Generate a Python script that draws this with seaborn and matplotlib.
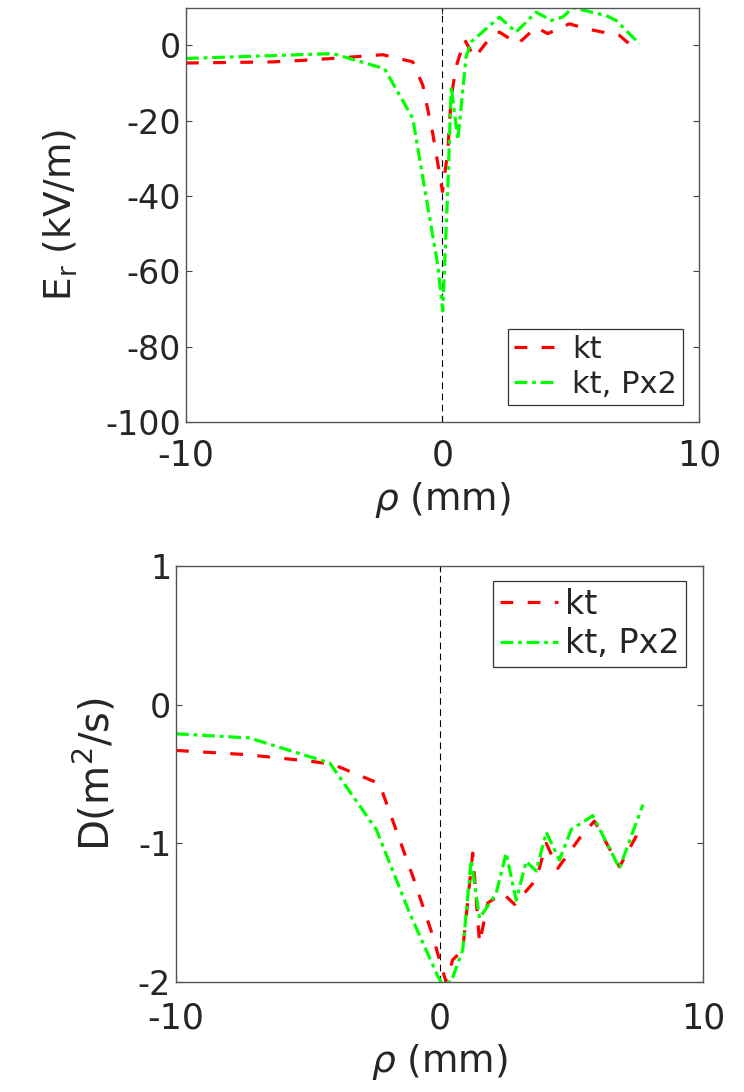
import matplotlib
matplotlib.use("Agg")
import matplotlib.pyplot as plt
import seaborn as sns
import pandas as pd

# radial field Er (kV/m)
rho_er_kt = [-10, -6.6, -5.45, -4.34, -2.33, -1.16, -0.77, -0.38, 0.0, 0.21, 0.34, 0.53,
             0.86, 1.25, 1.83, 2.22, 2.94, 3.65, 4.1, 4.95, 5.6, 6.25, 6.9, 7.42, 7.68]
er_kt = [-4.7, -4.4, -4.0, -3.5, -2.5, -4.4, -10.6, -23.4, -38.8, -27.8, -13.7, -5.7,
         1.5, -3.3, 1.8, 3.5, 0.4, 4.8, 3.1, 5.7, 4.4, 3.5, 2.6, -0.4, 0.4]

rho_er_px2 = [-10, -4.28, -2.26, -1.16, -0.18, 0.01, 0.21, 0.34, 0.6, 0.92, 1.12,
              2.22, 2.87, 3.65, 4.24, 4.69, 5.08, 6.38, 6.77, 7.68]
er_px2 = [-3.5, -2.2, -6.2, -19.4, -58.6, -70.5, -37.5, -11.0, -25.1, -3.1, 0.9,
          7.5, 3.5, 8.8, 6.6, 7.5, 10.0, 7.9, 6.6, 0.4]

# diffusion coefficient D (m^2/s)
rho_d_kt = [-10, -7.34, -4.81, -4.05, -2.28, -1.01, -0.25, -0.06, 0.25, 0.5, 0.88, 1.26,
            1.52, 1.83, 2.4, 2.85, 3.67, 4.05, 4.49, 5.44, 5.88, 6.83, 7.72]
d_kt = [-0.33, -0.36, -0.41, -0.43, -0.57, -1.24, -1.67, -1.80, -2.0, -1.84, -1.77, -1.07,
        -1.72, -1.43, -1.36, -1.44, -1.26, -1.0, -1.18, -0.93, -0.84, -1.17, -0.86]

rho_d_px2 = [-10, -7.21, -4.17, -2.4, -1.14, -0.06, 0.06, 0.44, 0.88, 1.2, 1.52, 2.15,
             2.53, 2.91, 3.29, 3.67, 4.05, 4.55, 5.0, 5.82, 6.83, 7.72]
d_px2 = [-0.21, -0.24, -0.42, -0.90, -1.50, -1.96, -2.0, -2.0, -1.77, -1.12, -1.54, -1.36,
         -1.07, -1.41, -1.13, -1.2, -0.92, -1.12, -0.90, -0.80, -1.18, -0.72]

labels = ["kt", "kt, Px2"]

sns.set_style("white")
plt.rcParams["font.family"] = ["DejaVu Sans"]
plt.rcParams["axes.unicode_minus"] = False
plt.rcParams["mathtext.fontset"] = "dejavusans"

fig = plt.figure(figsize=(7.44, 10.92), dpi=100)
ax1 = fig.add_axes([0.25, 0.6136, 0.6895, 0.3794])
ax2 = fig.add_axes([0.2366, 0.1007, 0.7083, 0.381])

red_dash = (4, 4.5)
green_dashdot = (4, 1.5, 1.2, 1.5)


def draw(ax, x1, y1, x2, y2, xpad):
    df1 = pd.DataFrame({"rho": x1, "val": y1})
    df2 = pd.DataFrame({"rho": x2, "val": y2})
    sns.lineplot(data=df1, x="rho", y="val", ax=ax, color=(1, 0, 0), lw=2.3,
                 estimator=None, sort=False, dashes=False, label=labels[0])
    sns.lineplot(data=df2, x="rho", y="val", ax=ax, color=(0, 1, 0), lw=2.3,
                 estimator=None, sort=False, dashes=False, label=labels[1])
    ax.lines[0].set_dashes(red_dash)
    ax.lines[1].set_dashes(green_dashdot)
    ax.axvline(0, color="black", lw=0.8, ls=(0, (6, 4)), zorder=1)
    ax.set_xlim(-10, 10)
    ax.set_xticks([-10, 0, 10])
    ax.tick_params(direction="in", length=4, width=0.8, colors="#444444",
                   labelcolor="#262626", labelsize=24, top=True, right=True,
                   left=True, bottom=True)
    ax.tick_params(axis="x", pad=xpad, labelsize=25)
    for s in ax.spines.values():
        s.set_color("#555555")
        s.set_linewidth(1.0)
    ax.set_xlabel(r"$\rho$ (mm)", fontsize=27, color="#262626", labelpad=5)


draw(ax1, rho_er_kt, er_kt, rho_er_px2, er_px2, 12)
ax1.set_ylim(-100, 10)
ax1.set_yticks([0, -20, -40, -60, -80, -100])
ax1.set_ylabel(r"E$_{\mathregular{r}}$ (kV/m)", fontsize=27, color="#262626",
               labelpad=18)
leg1 = ax1.legend(loc="lower right", bbox_to_anchor=(0.969, 0.041), borderaxespad=0,
                  fontsize=22, frameon=True, fancybox=False, framealpha=1,
                  edgecolor="#333333", handlelength=1.4, handletextpad=0.5,
                  labelspacing=0.2, borderpad=0.2)
leg1.get_frame().set_linewidth(0.9)

draw(ax2, rho_d_kt, d_kt, rho_d_px2, d_px2, 14)
ax2.set_ylim(-2, 1)
ax2.set_yticks([1, 0, -1, -2])
ax2.set_ylabel(r"D(m$^{\mathregular{2}}$/s)", fontsize=29, color="#262626",
               labelpad=14)
leg2 = ax2.legend(loc="upper right", bbox_to_anchor=(0.968, 0.964), borderaxespad=0,
                  fontsize=24, frameon=True, fancybox=False, framealpha=1,
                  edgecolor="#333333", handlelength=1.75, handletextpad=0.2,
                  labelspacing=0.2, borderpad=0.2)
leg2.get_frame().set_linewidth(0.9)

fig.savefig("out.png", dpi=100)
